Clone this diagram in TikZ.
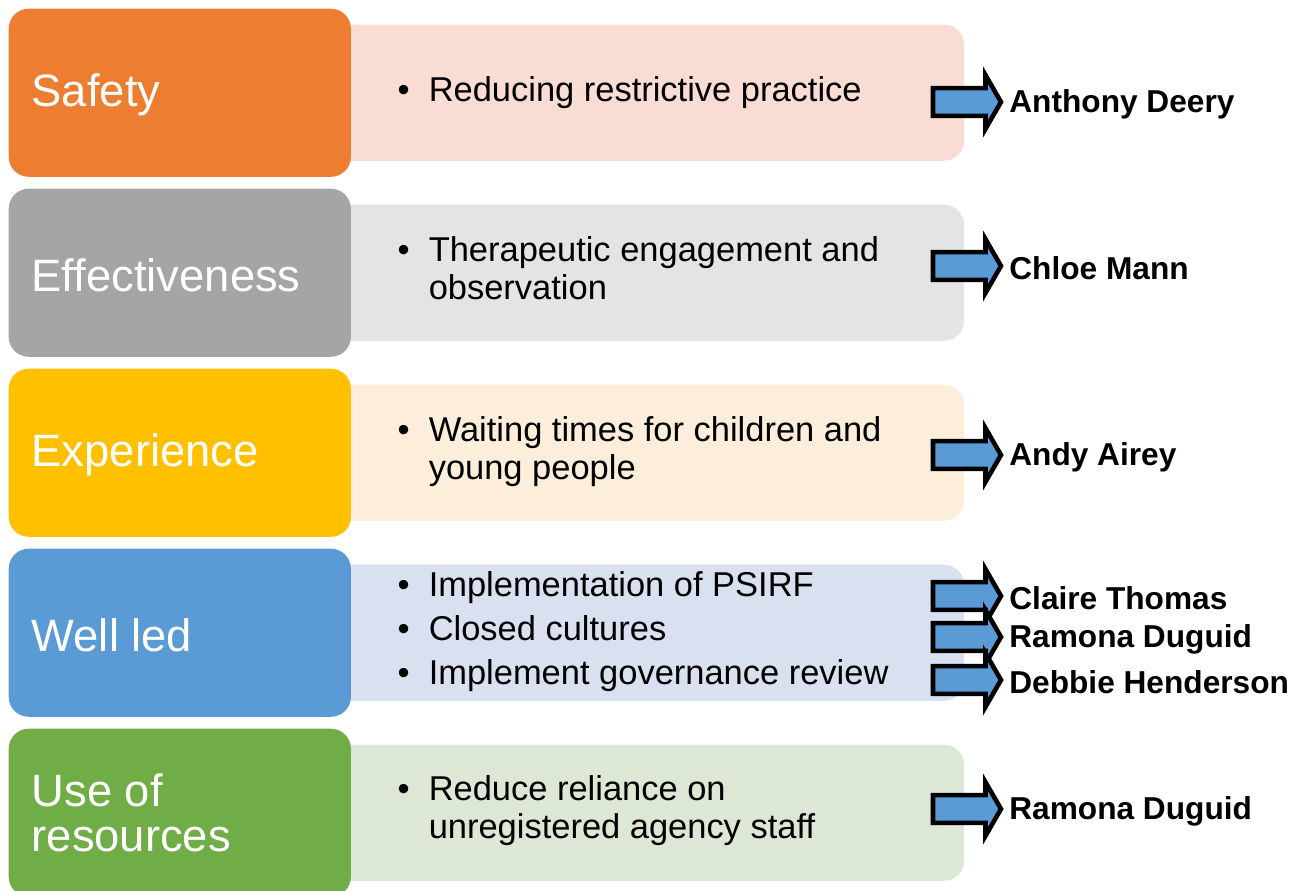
\documentclass[tikz,border=0pt]{standalone}
\usepackage{fontspec}
\setmainfont{Liberation Sans}
\usetikzlibrary{positioning}
\usetikzlibrary{shapes.arrows}

\definecolor{safetyC}{HTML}{ED7D31}
\definecolor{safetyL}{HTML}{F9DCD3}
\definecolor{effectC}{HTML}{A5A5A5}
\definecolor{effectL}{HTML}{E4E4E4}
\definecolor{experC}{HTML}{FFC000}
\definecolor{experL}{HTML}{FDEEDB}
\definecolor{ledC}{HTML}{5B9BD5}
\definecolor{ledL}{HTML}{D9E1F1}
\definecolor{useC}{HTML}{70AD47}
\definecolor{useL}{HTML}{DCE8D5}
\definecolor{arrowC}{HTML}{5B9BD5}

\begin{document}
\begin{tikzpicture}
[x=0.01cm,y=-0.01cm,
 theme/.style={shape=rectangle,rounded corners=0.2cm,anchor=north west,inner sep=0pt,
   minimum width=3.42cm,minimum height=1.68cm},
 band/.style={shape=rectangle,rounded corners=0.2cm,anchor=north west,inner sep=0pt,
   minimum width=6.33cm,minimum height=1.36cm},
 title/.style={white,anchor=west,align=left,inner sep=0pt,font=\fontsize{12.9}{12.8}\selectfont},
 points/.style={anchor=west,align=left,inner sep=0pt,font=\fontsize{9.8}{10.8}\selectfont},
 pointer/.style={single arrow,draw=black,line width=1.3pt,fill=arrowC,
   minimum height=0.68cm,inner xsep=0pt,inner ysep=0.115cm,
   single arrow head extend=0.13cm,single arrow tip angle=120},
 owner/.style={right=0.05cm of #1,anchor=west,inner sep=0pt,yshift=-0.02cm,
   font=\bfseries\fontsize{9}{11}\selectfont}]

\useasboundingbox (0,0) rectangle (1302,891);
\begin{scope}
\clip (0,0) rectangle (1302,891);

% light bands behind the themes
\node (b1) [band,fill=safetyL] at (330,24) {};
\node (b2) [band,fill=effectL] at (330,204) {};
\node (b3) [band,fill=experL] at (330,384) {};
\node (b4) [band,fill=ledL] at (330,564) {};
\node (b5) [band,fill=useL] at (330,744) {};

% themes
\node (s1) [theme,fill=safetyC] at (8,8) {};
\node (s2) [theme,fill=effectC] at (8,188) {};
\node (s3) [theme,fill=experC] at (8,368) {};
\node (s4) [theme,fill=ledC] at (8,548) {};
\node (s5) [theme,fill=useC] at (8,728) {};
\end{scope}

\node (l1) [title] at (31,95) {Safety};
\node (l2) [title] at (31,275) {Effectiveness};
\node (l3) [title] at (31,455) {Experience};
\node (l4) [title] at (31,635) {Well led};
\node (l5) [title] at (31,813) {Use of\\resources};

% priorities
\node (p1) [points] at (397,94)
  {\begin{tabular}{@{}l@{\hspace{0.19cm}}l@{}}\textbullet & Reducing restrictive practice\end{tabular}};
\node (p2) [points] at (397,273)
  {\begin{tabular}{@{}l@{\hspace{0.19cm}}l@{}}\textbullet & Therapeutic engagement and\\ & observation\end{tabular}};
\node (p3) [points] at (397,453)
  {\begin{tabular}{@{}l@{\hspace{0.19cm}}l@{}}\textbullet & Waiting times for children and\\ & young people\end{tabular}};
\node (p4) [points] at (397,633)
  {\begin{tabular}{@{}l@{\hspace{0.19cm}}l@{}}\textbullet & Implementation of PSIRF\\[1.7pt]
   \textbullet & Closed cultures\\[1.7pt]
   \textbullet & Implement governance review\end{tabular}};
\node (p5) [points] at (397,812)
  {\begin{tabular}{@{}l@{\hspace{0.19cm}}l@{}}\textbullet & Reduce reliance on\\ & unregistered agency staff\end{tabular}};

% leads
\node (a1) [pointer] at (963,102) {};
\node (n1) [owner=a1] {Anthony Deery};

\node (a2) [pointer] at (963,266) {};
\node (n2) [owner=a2] {Chloe Mann};

\node (a3) [pointer] at (963,455) {};
\node (n3) [owner=a3] {Andy Airey};

\node (a4) [pointer] at (963,596) {};
\node (n4) [owner=a4] {Claire Thomas};

\node (a5) [pointer] at (963,637) {};
\node (n5) [owner=a5] {Ramona Duguid};

\node (a6) [pointer] at (963,680) {};
\node (n6) [owner=a6] {Debbie Henderson};

\node (a7) [pointer] at (963,809) {};
\node (n7) [owner=a7] {Ramona Duguid};

\end{tikzpicture}
\end{document}
